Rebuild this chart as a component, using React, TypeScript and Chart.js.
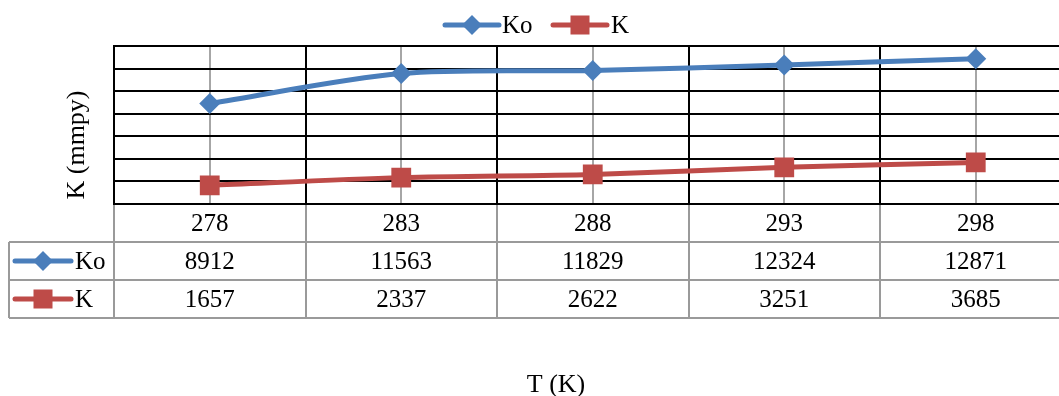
import React, { useEffect, useRef } from "react";
import { Chart, registerables } from "chart.js";

Chart.register(...registerables);

const categories = ["278", "283", "288", "293", "298"];
const koValues = [8912, 11563, 11829, 12324, 12871];
const kValues = [1657, 2337, 2622, 3251, 3685];
const seriesNames = ["Ko", "K"];
const yTitle = "K (mmpy)";
const xTitle = "T (K)";

const BLUE = "#4A7EBB";
const RED = "#BE4B48";
const FONT = "Liberation Serif, 'Times New Roman', serif";

function drawDiamond(ctx: CanvasRenderingContext2D, x: number, y: number, r: number, color: string) {
  ctx.beginPath();
  ctx.moveTo(x - r, y);
  ctx.lineTo(x, y - r);
  ctx.lineTo(x + r, y);
  ctx.lineTo(x, y + r);
  ctx.closePath();
  ctx.fillStyle = color;
  ctx.fill();
}

function drawSquare(ctx: CanvasRenderingContext2D, x: number, y: number, half: number, color: string) {
  ctx.fillStyle = color;
  ctx.fillRect(x - half, y - half, half * 2, half * 2);
}

function drawKey(ctx: CanvasRenderingContext2D, x0: number, x1: number, y: number, idx: number) {
  const color = idx === 0 ? BLUE : RED;
  ctx.save();
  ctx.strokeStyle = color;
  ctx.lineWidth = 5;
  ctx.lineCap = "round";
  ctx.beginPath();
  ctx.moveTo(x0, y);
  ctx.lineTo(x1, y);
  ctx.stroke();
  const cx = (x0 + x1) / 2;
  if (idx === 0) drawDiamond(ctx, cx, y, 10, color);
  else drawSquare(ctx, cx, y, 9.5, color);
  ctx.restore();
}

const decorPlugin = {
  id: "decor",
  beforeDatasetsDraw(chart: any) {
    const { ctx, chartArea, scales } = chart;
    const xs = scales.x;
    const band = xs.getPixelForValue(1) - xs.getPixelForValue(0);
    ctx.save();
    ctx.strokeStyle = "#000";
    ctx.lineWidth = 2;
    for (let i = 0; i <= categories.length; i++) {
      const x = Math.round(xs.getPixelForValue(0) - band / 2 + i * band);
      ctx.beginPath();
      ctx.moveTo(x, chartArea.top);
      ctx.lineTo(x, chartArea.bottom);
      ctx.stroke();
    }
    ctx.restore();
  },
  afterDraw(chart: any) {
    const { ctx, chartArea, scales } = chart;
    const xs = scales.x;
    const band = xs.getPixelForValue(1) - xs.getPixelForValue(0);
    const top = chartArea.bottom;
    const rowH = 38;
    const headerLeft = 9;
    const rows = [top, top + rowH, top + rowH * 2, top + rowH * 3];

    ctx.save();
    ctx.strokeStyle = "#9A9A9A";
    ctx.lineWidth = 2;
    for (let r = 1; r < rows.length; r++) {
      ctx.beginPath();
      ctx.moveTo(headerLeft, rows[r]);
      ctx.lineTo(chartArea.right + 50, rows[r]);
      ctx.stroke();
    }
    ctx.beginPath();
    ctx.moveTo(headerLeft, rows[1]);
    ctx.lineTo(headerLeft, rows[3]);
    ctx.stroke();
    for (let i = 0; i <= categories.length; i++) {
      const x = Math.round(xs.getPixelForValue(0) - band / 2 + i * band);
      ctx.beginPath();
      ctx.moveTo(x, top + 1);
      ctx.lineTo(x, rows[3]);
      ctx.stroke();
    }

    ctx.fillStyle = "#000";
    ctx.font = `25px ${FONT}`;
    ctx.textAlign = "center";
    ctx.textBaseline = "middle";
    const dataRows = [koValues, kValues];
    for (let i = 0; i < categories.length; i++) {
      const cx = xs.getPixelForValue(i);
      ctx.fillText(categories[i], cx, rows[0] + rowH / 2 + 1);
      for (let r = 0; r < dataRows.length; r++) {
        ctx.fillText(String(dataRows[r][i]), cx, rows[r + 1] + rowH / 2 + 1);
      }
    }
    ctx.textAlign = "left";
    for (let r = 0; r < seriesNames.length; r++) {
      const y = rows[r + 1] + rowH / 2;
      drawKey(ctx, 15, 71, y, r);
      ctx.fillStyle = "#000";
      ctx.fillText(seriesNames[r], 75, y + 1);
    }

    ctx.font = `25px ${FONT}`;
    drawKey(ctx, 445, 499, 25, 0);
    ctx.fillStyle = "#000";
    ctx.fillText(seriesNames[0], 502, 26);
    drawKey(ctx, 553, 607, 25, 1);
    ctx.fillStyle = "#000";
    ctx.fillText(seriesNames[1], 611, 26);

    ctx.font = `26px ${FONT}`;
    ctx.textAlign = "center";
    ctx.fillText(xTitle, 556, 385);
    ctx.save();
    ctx.translate(77, 145);
    ctx.rotate(-Math.PI / 2);
    ctx.fillText(yTitle, 0, 0);
    ctx.restore();

    ctx.restore();
  },
};

export default function App() {
  const ref = useRef<HTMLCanvasElement | null>(null);
  useEffect(() => {
    if (!ref.current) return;
    const chart = new Chart(ref.current, {
      type: "line",
      data: {
        labels: categories,
        datasets: [
          {
            label: seriesNames[0],
            data: koValues,
            borderColor: BLUE,
            backgroundColor: BLUE,
            borderWidth: 5,
            pointStyle: "rectRot",
            pointRadius: 10.5,
            pointBorderWidth: 0,
            pointBackgroundColor: BLUE,
            tension: 0.3,
          },
          {
            label: seriesNames[1],
            data: kValues,
            borderColor: RED,
            backgroundColor: RED,
            borderWidth: 5,
            pointStyle: "rect",
            pointRadius: 14,
            pointBorderWidth: 0,
            pointBackgroundColor: RED,
            tension: 0.3,
          },
        ],
      },
      options: {
        responsive: false,
        animation: false,
        devicePixelRatio: 1,
        layout: { padding: { left: 114, top: 46, right: 1090 - 1071.5, bottom: 396 - 204 } },
        plugins: { legend: { display: false }, tooltip: { enabled: false } },
        scales: {
          x: {
            offset: true,
            ticks: { display: false },
            grid: { offset: false, color: "#A6A6A6", lineWidth: 2, drawTicks: false },
            border: { display: false },
          },
          y: {
            min: 0,
            max: 14000,
            ticks: { display: false, stepSize: 2000 },
            grid: { color: "#000", lineWidth: 2, drawTicks: false },
            border: { display: true, color: "#000", width: 2 },
          },
        },
      },
      plugins: [decorPlugin],
    });
    return () => chart.destroy();
  }, []);
  return (
    <div style={{ position: "fixed", left: 0, top: 0, width: 1059, height: 396, overflow: "hidden", background: "#fff" }}>
      <canvas ref={ref} width={1090} height={396} style={{ width: 1090, height: 396, display: "block" }} />
    </div>
  );
}
